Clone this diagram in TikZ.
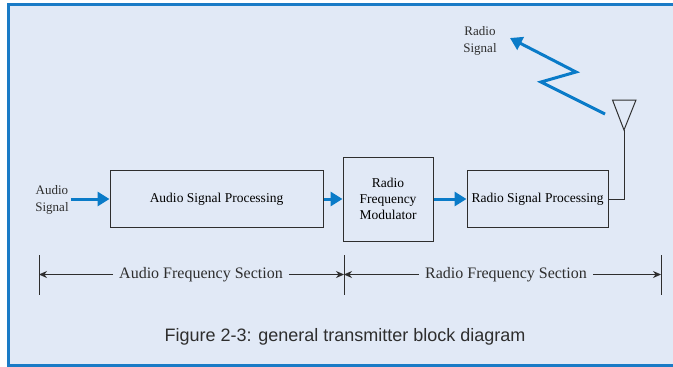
\documentclass[tikz,border=0pt]{standalone}
\usepackage{fontspec}
\setmainfont{Liberation Serif}
\newfontfamily\capfont{Liberation Sans}
\usetikzlibrary{arrows.meta}
\definecolor{bgblue}{HTML}{E1E9F6}
\definecolor{rimblue}{HTML}{1A7BC6}
\definecolor{sigblue}{HTML}{0A7BC8}
\definecolor{inkgray}{HTML}{2E2E2E}
\tikzset{
  blk/.style={draw=inkgray, line width=1pt, inner sep=2pt, align=center, font=\fontsize{13.5}{16}\selectfont},
  sig/.style={draw=sigblue, line width=3pt, -{Triangle[length=12pt,width=14pt]}},
  dim/.style={draw=inkgray, line width=0.8pt, -{Stealth[length=8pt,width=7pt]}},
  lbl/.style={align=center, font=\fontsize{13}{16.5}\selectfont, text=inkgray},
  sec/.style={font=\fontsize{16}{18}\selectfont, text=inkgray, inner sep=6pt}
}
\begin{document}
\begin{tikzpicture}[x=1pt, y=-1pt]
  \useasboundingbox (0,0) rectangle (673,367);
  \fill[white] (0,0) rectangle (673,367);
  \draw[rimblue, line width=3pt, fill=bgblue] (8.5,4.5) rectangle (690,365.5);

  % blocks
  \node[blk, minimum width=213pt, minimum height=57pt] (asp) at (216.5,199) {Audio Signal Processing};
  \node[blk, minimum width=90pt, minimum height=84pt] (rfm) at (388,199) {Radio\\Frequency\\Modulator};
  \node[blk, minimum width=141pt, minimum height=57pt] (rsp) at (537.5,199) {Radio Signal Processing};
  \node[lbl, inner sep=2pt] (ain) at (52,200) {Audio\\Signal};
  \node[lbl] (aout) at (480,41) {Radio\\Signal};

  \draw[sig] (ain.east |- asp.west) -- (asp.west);
  \draw[sig] (asp) -- (rfm);
  \draw[sig] (rfm) -- (rsp);

  % antenna
  \coordinate (ant) at (624,130);
  \coordinate (antl) at (612.5,100);
  \coordinate (antr) at (636,100);
  \draw[inkgray, line width=1pt] (rsp.east) -| (ant);
  \draw[inkgray, line width=1pt] (ant) -- (antl) -- (antr) -- cycle;
  \draw[sig, line join=miter] (605,114) -- (541,82) -- (576,72) -- (510,38);

  % sections
  \coordinate (t1) at (39,274.5);
  \coordinate (t2) at (344,274.5);
  \coordinate (t3) at (661,274.5);
  \foreach \t in {t1,t2,t3}
    \draw[inkgray, line width=1pt] ([yshift=-20pt]\t) -- ([yshift=20pt]\t);
  \node[sec] (afs) at (201,274.5) {Audio Frequency Section};
  \node[sec] (rfs) at (506,274.5) {Radio Frequency Section};
  \draw[dim] (afs.west) -- (t1);
  \draw[dim] (afs.east) -- (t2);
  \draw[dim] (rfs.west) -- (t2);
  \draw[dim] (rfs.east) -- (t3);

  \node[font=\capfont\fontsize{18}{20}\selectfont, text=inkgray] (cap) at (345,337) {Figure 2-3: general transmitter block diagram};
\end{tikzpicture}
\end{document}
